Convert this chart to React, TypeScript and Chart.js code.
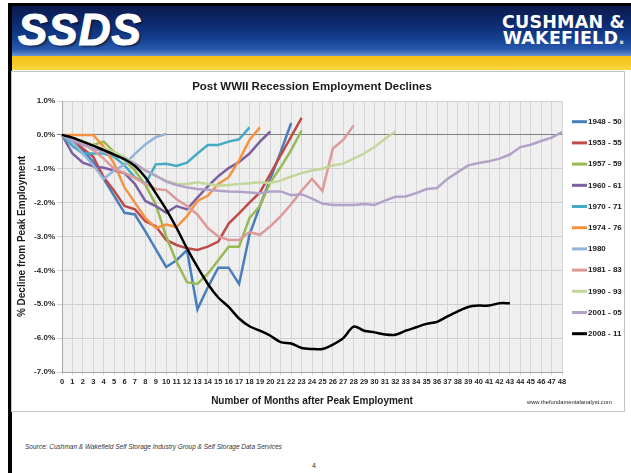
import React, { useEffect, useRef } from "react";
import { Chart, registerables } from "chart.js";
Chart.register(...registerables);

const months = ["0","1","2","3","4","5","6","7","8","9","10","11","12","13","14","15","16","17","18","19","20","21","22","23","24","25","26","27","28","29","30","31","32","33","34","35","36","37","38","39","40","41","42","43","44","45","46","47","48"];

const yTicks = [1, 0, -1, -2, -3, -4, -5, -6, -7];

const seriesLabels = ["1948 - 50","1953 - 55","1957 - 59","1960 - 61","1970 - 71","1974 - 76","1980","1981 - 83","1990 - 93","2001 - 05","2008 - 11"];

const s1948 = [0, -0.2, -0.45, -0.8, -1.3, -1.8, -2.3, -2.35, -2.85, -3.37, -3.9, -3.7, -3.4, -5.15, -4.5, -3.92, -3.92, -4.4, -2.95, -2.1, -1.3, -0.5, 0.35];
const s1953 = [0, -0.15, -0.4, -0.65, -1.25, -1.65, -2.1, -2.2, -2.55, -2.7, -3.1, -3.25, -3.35, -3.4, -3.3, -3.15, -2.62, -2.32, -2.0, -1.7, -1.15, -0.6, -0.05, 0.5];
const s1957 = [0, -0.1, -0.2, -0.3, -0.2, -0.5, -0.75, -1.05, -1.48, -2.05, -3.0, -3.75, -4.35, -4.4, -4.1, -3.7, -3.3, -3.3, -2.45, -2.1, -1.4, -0.95, -0.45, 0.13];
const s1960 = [0, -0.55, -0.82, -0.93, -0.97, -1.05, -1.13, -1.45, -1.95, -2.1, -2.3, -2.1, -2.2, -1.85, -1.52, -1.22, -0.98, -0.8, -0.55, -0.2, 0.1];
const s1970 = [0, -0.33, -0.55, -0.55, -0.55, -0.65, -0.9, -1.25, -1.45, -0.87, -0.85, -0.92, -0.82, -0.55, -0.3, -0.3, -0.2, -0.13, 0.22];
const s1974 = [0, 0, 0, 0, -0.35, -0.85, -1.55, -2.0, -2.45, -2.75, -2.65, -2.72, -2.4, -1.95, -1.8, -1.45, -1.25, -0.75, -0.15, 0.22];
const s1980 = [0, -0.2, -0.55, -0.9, -1.3, -1.05, -0.88, -0.56, -0.28, -0.07, 0.03];
const s1981 = [0, -0.1, -0.25, -0.45, -0.7, -1.0, -1.12, -1.27, -1.45, -1.6, -1.63, -1.9, -2.1, -2.35, -2.75, -3.0, -3.1, -3.1, -2.87, -2.95, -2.7, -2.4, -2.05, -1.65, -1.3, -1.65, -0.4, -0.15, 0.28];
const s1990 = [0, -0.1, -0.2, -0.3, -0.4, -0.5, -0.65, -0.85, -1.05, -1.22, -1.35, -1.45, -1.45, -1.4, -1.45, -1.5, -1.48, -1.45, -1.43, -1.4, -1.42, -1.35, -1.23, -1.13, -1.05, -1.0, -0.9, -0.85, -0.7, -0.55, -0.36, -0.12, 0.1];
const s2001 = [0, -0.15, -0.3, -0.4, -0.5, -0.6, -0.7, -0.85, -1.05, -1.2, -1.38, -1.48, -1.55, -1.6, -1.62, -1.65, -1.67, -1.68, -1.7, -1.72, -1.67, -1.67, -1.78, -1.75, -1.88, -2.03, -2.07, -2.07, -2.07, -2.04, -2.07, -1.94, -1.83, -1.82, -1.72, -1.6, -1.57, -1.3, -1.1, -0.9, -0.83, -0.78, -0.7, -0.58, -0.36, -0.29, -0.18, -0.08, 0.08];
const s2008 = [0, -0.08, -0.2, -0.32, -0.45, -0.58, -0.72, -0.92, -1.25, -1.72, -2.2, -2.75, -3.35, -3.9, -4.4, -4.8, -5.08, -5.42, -5.65, -5.78, -5.93, -6.12, -6.16, -6.29, -6.32, -6.32, -6.19, -6.0, -5.66, -5.78, -5.83, -5.89, -5.9, -5.78, -5.68, -5.58, -5.52, -5.36, -5.21, -5.08, -5.04, -5.04, -4.97, -4.97];

const seriesData = [s1948, s1953, s1957, s1960, s1970, s1974, s1980, s1981, s1990, s2001, s2008];
const seriesColors = ["#4A7EBB","#BE4B48","#98B954","#7D60A0","#46AAC5","#F69240","#93B3DB","#DE9A98","#C3D69B","#B3A2C7","#000000"];

const FONT = '"Liberation Sans", Arial, sans-serif';

const bgPlugin = {
  id: "plotBg",
  beforeDraw(chart: any) {
    const { ctx, chartArea: a } = chart;
    ctx.save();
    ctx.fillStyle = "#efefef";
    ctx.fillRect(a.left, a.top, a.right - a.left, a.bottom - a.top);
    ctx.restore();
  },
};

const legendPlugin = {
  id: "sideLegend",
  afterDraw(chart: any) {
    const { ctx, chartArea: a } = chart;
    chart.data.datasets.forEach((ds: any, i: number) => {
      const y = a.top + 20.7 + i * 21.2;
      const x0 = a.right + 10;
      ctx.save();
      ctx.strokeStyle = ds.borderColor;
      ctx.lineWidth = 3;
      ctx.beginPath();
      ctx.moveTo(x0, y);
      ctx.lineTo(x0 + 15, y);
      ctx.stroke();
      ctx.fillStyle = "#1a1a1a";
      ctx.font = `bold 8px ${FONT}`;
      ctx.textBaseline = "middle";
      ctx.textAlign = "left";
      ctx.fillText(ds.label, x0 + 16, y);
      ctx.restore();
    });
  },
};

function EmploymentChart() {
  const ref = useRef<HTMLCanvasElement | null>(null);
  useEffect(() => {
    if (!ref.current) return;
    const chart = new Chart(ref.current, {
      type: "line",
      data: {
        labels: months,
        datasets: seriesData.map((d, i) => ({
          label: seriesLabels[i],
          data: d,
          borderColor: seriesColors[i],
          backgroundColor: seriesColors[i],
          borderWidth: 2.5,
          pointRadius: 0,
          tension: i === 10 ? 0.3 : 0,
          order: 10 - i,
          fill: false,
        })),
      },
      options: {
        responsive: false,
        animation: false,
        events: [],
        layout: { padding: { left: 0, right: 62, top: 0, bottom: 0 } },
        plugins: {
          legend: { display: false },
          tooltip: { enabled: false },
          title: {
            display: true,
            fullSize: false,
            text: "Post WWII Recession Employment Declines",
            color: "#1a1a1a",
            font: { family: FONT, size: 11.5, weight: "bold" },
            padding: { top: 8, bottom: 7.2 },
          },
        },
        scales: {
          x: {
            type: "category",
            offset: false,
            grid: { color: "#d6d6d6", lineWidth: 1, tickLength: 3 },
            border: { color: "#a6a6a6" },
            ticks: {
              autoSkip: false,
              maxRotation: 0,
              minRotation: 0,
              padding: 2,
              color: "#262626",
              font: { family: FONT, size: 7.5, weight: "bold" },
            },
            title: {
              display: true,
              text: "Number of Months after Peak Employment",
              color: "#1a1a1a",
              font: { family: FONT, size: 10, weight: "bold" },
              padding: { top: 0, bottom: 4 },
            },
            afterFit: (s: any) => { s.height = 39; },
          },
          y: {
            min: -7,
            max: 1,
            afterBuildTicks: (s: any) => { s.ticks = yTicks.map((v) => ({ value: v })); },
            grid: {
              color: (c: any) => (c.tick && c.tick.value === 0 ? "#7f7f7f" : "#d0d0d0"),
              lineWidth: 1,
              tickLength: 5,
            },
            border: { color: "#a6a6a6" },
            ticks: {
              padding: 2,
              color: "#262626",
              font: { family: FONT, size: 8, weight: "bold" },
              callback: (v: any) => Number(v).toFixed(1) + "%",
            },
            title: {
              display: true,
              text: "% Decline from Peak Employment",
              color: "#1a1a1a",
              font: { family: FONT, size: 10, weight: "bold" },
              padding: { top: 4, bottom: 0 },
            },
            afterFit: (s: any) => { s.width = 50; },
          },
        },
      },
      plugins: [bgPlugin, legendPlugin],
    } as any);
    return () => chart.destroy();
  }, []);
  return <canvas ref={ref} width={612} height={339} style={{ width: 612, height: 339, display: "block" }} />;
}

export default function App() {
  const abs = (s: React.CSSProperties): React.CSSProperties => ({ position: "absolute", ...s });
  return (
    <div style={abs({ left: 0, top: 0, width: 631, height: 473, background: "#fff", overflow: "hidden" })}>
      <div style={abs({ left: 8, top: 3, width: 623, height: 2.5, background: "#000" })} />
      <div style={abs({ left: 8, top: 3, width: 3.5, height: 470, background: "#000" })} />
      <div
        style={abs({
          left: 11.5, top: 5.5, width: 620, height: 50,
          background: "linear-gradient(to bottom, #0b1a4e 0%, #0d2a6e 35%, #153f90 65%, #2a5cb0 88%, #6f95d0 100%)",
        })}
      />
      <div
        style={abs({
          left: 11.5, top: 55.5, width: 620, height: 14.5,
          background: "linear-gradient(to bottom, #f4bf14 0%, #f8cb2a 60%, #fcd845 100%)",
        })}
      />
      <div
        style={abs({
          left: 18, top: 5, height: 50, lineHeight: "50px",
          fontFamily: FONT, fontWeight: 900, fontStyle: "italic", fontSize: 44,
          color: "#fff", letterSpacing: 1, WebkitTextStroke: "1.2px #fff",
          textShadow: "2px 2px 2px rgba(0,0,0,0.5)",
        })}
      >
        SSDS
      </div>
      <div
        style={abs({
          right: 6, top: 14, textAlign: "right",
          fontFamily: '"DejaVu Sans", sans-serif', fontWeight: "bold", fontSize: 17.5,
          lineHeight: "16px", color: "#fff", letterSpacing: 0.2,
        })}
      >
        CUSHMAN &amp;<br />WAKEFIELD<span style={{ color: "#ccc" }}>.</span>
      </div>
      <div style={abs({ left: 11, top: 71, width: 612, height: 339, border: "1px solid #c4c4c4" })} />
      <div style={abs({ left: 12, top: 72 })}>
        <EmploymentChart />
      </div>
      <div
        style={abs({
          left: 527, top: 399, fontFamily: FONT, fontSize: 5.8, color: "#222", whiteSpace: "nowrap",
        })}
      >
        www.thefundamentalanalyst.com
      </div>
      <div
        style={abs({
          left: 25, top: 443, fontFamily: FONT, fontSize: 6.5, fontStyle: "italic", color: "#333", whiteSpace: "nowrap",
        })}
      >
        Source: Cushman &amp; Wakefield Self Storage Industry Group &amp; Self Storage Data Services
      </div>
      <div style={abs({ left: 312, top: 462, fontFamily: FONT, fontSize: 7, color: "#333" })}>4</div>
    </div>
  );
}
